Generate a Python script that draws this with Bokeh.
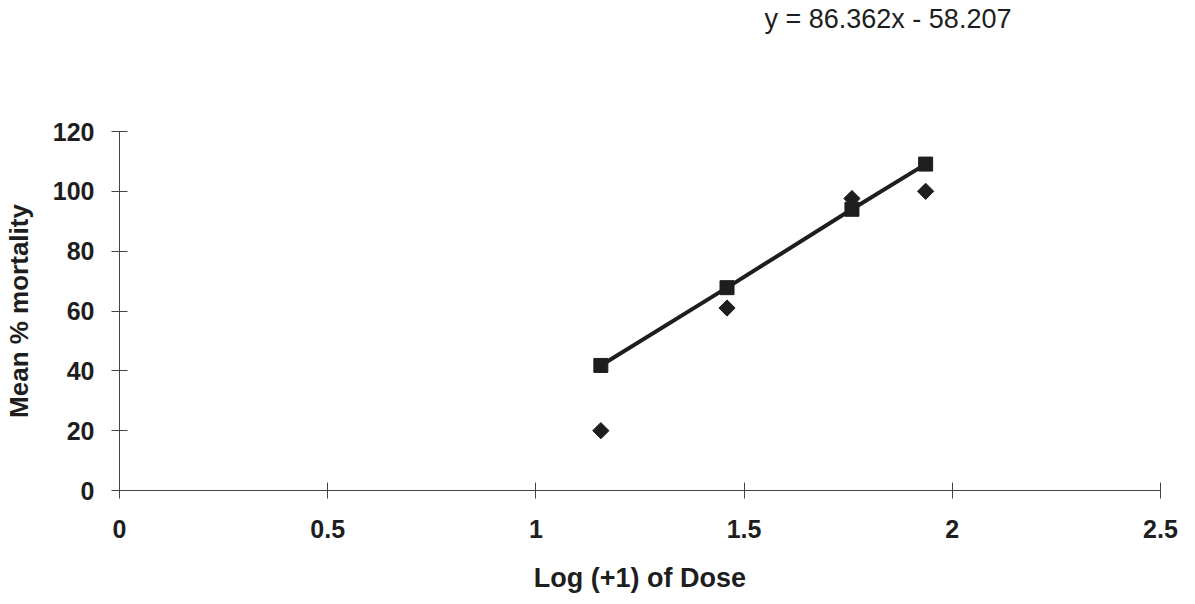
from bokeh.plotting import figure
from bokeh.models import Range1d, Title, FixedTicker
from bokeh.embed import file_html
from bokeh.resources import INLINE

# Data
log_dose = [1.156, 1.459, 1.759, 1.936]
observed_mortality = [20, 61, 97.6, 100]
fitted_mortality = [41.8, 67.8, 94.0, 109.1]
x_ticks = [0, 0.5, 1, 1.5, 2, 2.5]
y_ticks = [0, 20, 40, 60, 80, 100, 120]
equation = "y = 86.362x - 58.207"

FONT = "Liberation Sans"
INK = "#1e1e1e"

p = figure(width=1195, height=604, output_backend="svg", toolbar_location=None,
           x_range=Range1d(0, 2.5), y_range=Range1d(0, 120),
           min_border_left=118, min_border_right=35,
           min_border_top=131, min_border_bottom=114)
p.background_fill_color = "white"
p.border_fill_color = "white"
p.outline_line_color = None
p.xgrid.grid_line_color = None
p.ygrid.grid_line_color = None

for ax, ticks in ((p.xaxis, x_ticks), (p.yaxis, y_ticks)):
    ax.ticker = FixedTicker(ticks=ticks)
    ax.minor_tick_line_color = None
    ax.major_tick_in = 8
    ax.major_tick_out = 8
    ax.axis_line_color = "#444444"
    ax.major_tick_line_color = "#444444"
    ax.major_label_text_font = FONT
    ax.major_label_text_font_style = "bold"
    ax.major_label_text_font_size = "25px"
    ax.major_label_text_color = INK
    ax.axis_label_text_font = FONT
    ax.axis_label_text_font_style = "bold"
    ax.axis_label_text_color = INK

p.xaxis.axis_label = "Log (+1) of Dose"
p.yaxis.axis_label = "Mean % mortality"
p.xaxis.axis_label_text_font_size = "27px"
p.yaxis.axis_label_text_font_size = "26px"
p.xaxis.major_label_standoff = 21
p.yaxis.major_label_standoff = 17
p.xaxis.axis_label_standoff = 22
p.yaxis.axis_label_standoff = 16

p.line(log_dose, fitted_mortality, line_color=INK, line_width=4)
p.scatter(log_dose, fitted_mortality, marker="square", size=14,
          fill_color=INK, line_color=INK)
p.scatter(log_dose, observed_mortality, marker="square", size=11.5, angle=0.785398,
          fill_color=INK, line_color=INK)

# blank spacer panel between the frame and the equation line
p.add_layout(Title(text=" ", text_font_size="86px", standoff=0), "above")
p.add_layout(Title(text=equation, align="left", offset=645, standoff=0,
                   text_font=FONT, text_font_style="normal",
                   text_font_size="27px", text_color=INK), "above")

open("out.html", "w").write(file_html(p, INLINE))
